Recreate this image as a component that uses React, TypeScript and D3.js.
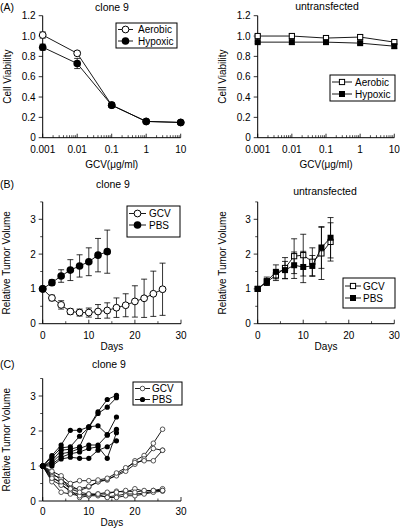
import React from "react";
import * as d3 from "d3";

// ---------- Panel A data (cell viability vs GCV dose) ----------
const doses = [0.001, 0.01, 0.1, 1, 10];
const aerobicClone9 = [1.01, 0.83, 0.32, 0.16, 0.15];
const aerobicClone9Err = [0.03, 0.02, 0.02, 0.01, 0.01];
const hypoxicClone9 = [0.89, 0.73, 0.32, 0.16, 0.15];
const hypoxicClone9Err = [0.03, 0.05, 0.02, 0.01, 0.01];
const aerobicUntr = [1.0, 1.0, 0.98, 0.99, 0.94];
const aerobicUntrErr = [0.015, 0.02, 0.015, 0.02, 0.01];
const hypoxicUntr = [0.94, 0.94, 0.94, 0.93, 0.9];
const hypoxicUntrErr = [0.01, 0.02, 0.015, 0.015, 0.02];
const viabilityTicks = [0, 0.2, 0.4, 0.6, 0.8, 1.0, 1.2];
const doseTicks = [0.001, 0.01, 0.1, 1, 10];
const doseTickLabels = ["0.001", "0.01", "0.1", "1", "10"];

// ---------- Panel B data (mean relative tumor volume) ----------
const daysGcvClone9 = [0, 2, 4, 6, 8, 10, 12, 14, 16, 18, 20, 22, 24, 26];
const gcvClone9 = [1.0, 0.74, 0.54, 0.35, 0.32, 0.32, 0.35, 0.38, 0.46, 0.53, 0.64, 0.73, 0.86, 0.99];
const gcvClone9Sd = [0, 0.08, 0.12, 0.08, 0.1, 0.13, 0.2, 0.22, 0.28, 0.33, 0.45, 0.55, 0.65, 0.75];
const daysPbsClone9 = [0, 2, 4, 6, 8, 10, 12, 14];
const pbsClone9 = [1.0, 1.18, 1.37, 1.54, 1.66, 1.78, 1.97, 2.07];
const pbsClone9Sd = [0, 0.08, 0.18, 0.3, 0.32, 0.4, 0.48, 0.62];

const daysUntr = [0, 2, 4, 6, 8, 10, 12, 14, 16];
const gcvUntr = [1.0, 1.2, 1.39, 1.6, 1.94, 1.97, 1.78, 2.02, 2.35];
const gcvUntrSd = [0, 0.1, 0.15, 0.3, 0.5, 0.6, 0.4, 0.75, 0.55];
const pbsUntr = [1.0, 1.22, 1.49, 1.54, 1.68, 1.63, 1.66, 2.19, 2.47];
const pbsUntrSd = [0, 0.12, 0.2, 0.25, 0.38, 0.45, 0.3, 0.6, 0.58];

const volumeTicks = [0, 1, 2, 3];
const volumeMinor = [0.5, 1.5, 2.5, 3.5];
const dayTicks = [0, 10, 20, 30];
const dayMinor = [5, 15, 25];

// ---------- Panel C data (individual mice, clone 9) ----------
const daysPbsMice = [0, 2, 4, 6, 8, 10, 12, 14, 16];
const pbsMouse1 = [1, 1.3, 1.6, 2.02, 2.02, 2.12, 2.55, 2.9, 3.02];
const pbsMouse2 = [1, 1.25, 1.52, 1.55, 1.85, 2.1, 2.5, 2.68, 2.95];
const pbsMouse3 = [1, 1.15, 1.45, 1.48, 1.55, 2.12, 2.15, 1.9, 2.4];
const pbsMouse4 = [1, 1.1, 1.35, 1.4, 1.5, 1.6, 1.6, 1.88, 2.05];
const pbsMouse5 = [1, 1.05, 1.25, 1.35, 1.4, 1.5, 1.55, 1.22, 1.95];
const pbsMouse6 = [1, 1.0, 1.2, 1.25, 1.22, 1.22, 1.45, 1.55, 1.72];

const daysGcvMice = [0, 2, 4, 6, 8, 10, 12, 14, 16, 18, 20, 22, 24, 26];
const gcvMouse1 = [1, 0.8, 0.6, 0.45, 0.3, 0.4, 0.55, 0.6, 0.75, 0.9, 1.15, 1.3, 1.65, 2.05];
const gcvMouse2 = [1, 0.75, 0.65, 0.35, 0.35, 0.42, 0.55, 0.62, 0.72, 0.85, 1.05, 1.2, 1.5, 1.45];
const gcvMouse3 = [1, 0.85, 0.72, 0.5, 0.58, 0.58, 0.6, 0.65, 0.8, 0.95, 1.1, 1.15, 1.15, 1.45];
const gcvMouse4 = [1, 0.7, 0.5, 0.25, 0.2, 0.15, 0.2, 0.2, 0.28, 0.25, 0.35, 0.28, 0.3, 0.35];
const gcvMouse5 = [1, 0.6, 0.45, 0.3, 0.1, 0.15, 0.15, 0.12, 0.15, 0.2, 0.2, 0.22, 0.28, 0.3];
const gcvMouse6 = [1, 0.55, 0.25, 0.2, 0.15, 0.2, 0.18, 0.1, 0.1, 0.15, 0.15, 0.2, 0.25, 0.28];
const gcvMouse7 = [1, 0.65, 0.55, 0.35, 0.25, 0.2, 0.2, 0.25, 0.25, 0.3, 0.25, 0.3, 0.3, 0.3];

const pbsMice = [pbsMouse1, pbsMouse2, pbsMouse3, pbsMouse4, pbsMouse5, pbsMouse6];
const gcvMice = [gcvMouse1, gcvMouse2, gcvMouse3, gcvMouse4, gcvMouse5, gcvMouse6, gcvMouse7];

const FONT = "'Liberation Sans', Arial, Helvetica, sans-serif";
const FS = 10;

type Marker = "openCircle" | "filledCircle" | "openSquare" | "filledSquare" | "smallOpen" | "smallFilled";

function MarkerShape({ kind, cx, cy }: { kind: Marker; cx: number; cy: number }) {
  switch (kind) {
    case "openCircle":
      return <circle cx={cx} cy={cy} r={3.4} fill="#fff" stroke="#000" strokeWidth={1} />;
    case "filledCircle":
      return <circle cx={cx} cy={cy} r={3.8} fill="#000" />;
    case "openSquare":
      return <rect x={cx - 2.6} y={cy - 2.6} width={5.2} height={5.2} fill="#fff" stroke="#000" strokeWidth={1} />;
    case "filledSquare":
      return <rect x={cx - 3} y={cy - 3} width={6} height={6} fill="#000" />;
    case "smallOpen":
      return <circle cx={cx} cy={cy} r={2.3} fill="#fff" stroke="#444" strokeWidth={0.9} />;
    case "smallFilled":
      return <circle cx={cx} cy={cy} r={2.6} fill="#000" />;
  }
  return null;
}

function Series({ xs, ys, err, x, y, marker }: any) {
  const line = d3
    .line<number>()
    .x((_, i) => x(xs[i]))
    .y((v) => y(v));
  return (
    <g>
      <path d={line(ys) || ""} fill="none" stroke="#000" strokeWidth={0.9} />
      {err &&
        ys.map((v: number, i: number) =>
          err[i] > 0 ? (
            <g key={"e" + i} stroke="#000" strokeWidth={0.8}>
              <line x1={x(xs[i])} x2={x(xs[i])} y1={y(v - err[i])} y2={y(v + err[i])} />
              <line x1={x(xs[i]) - 3} x2={x(xs[i]) + 3} y1={y(v + err[i])} y2={y(v + err[i])} />
              <line x1={x(xs[i]) - 3} x2={x(xs[i]) + 3} y1={y(v - err[i])} y2={y(v - err[i])} />
            </g>
          ) : null
        )}
      {ys.map((v: number, i: number) => (
        <MarkerShape key={"m" + i} kind={marker} cx={x(xs[i])} cy={y(v)} />
      ))}
    </g>
  );
}

function Axes({ x, y, xMajor, xLabels, xMinor, yMajor, yLabels, yMinor, xTitle, yTitle, yTitleX, xLabelDy, xTitleY }: any) {
  const [x0, x1] = x.range();
  const [yb, yt] = y.range();
  return (
    <g fontFamily={FONT} fontSize={FS} fill="#000">
      <line x1={x0} x2={x1} y1={yb} y2={yb} stroke="#000" strokeWidth={1} />
      <line x1={x0} x2={x0} y1={yb} y2={yt} stroke="#000" strokeWidth={1} />
      {xMajor.map((t: number, i: number) => (
        <g key={"xm" + i}>
          <line x1={x(t)} x2={x(t)} y1={yb} y2={yb - 4} stroke="#000" strokeWidth={0.8} />
          <text x={x(t)} y={yb + xLabelDy} textAnchor="middle">
            {xLabels[i]}
          </text>
        </g>
      ))}
      {xMinor.map((t: number, i: number) => (
        <line key={"xn" + i} x1={x(t)} x2={x(t)} y1={yb} y2={yb - 2.5} stroke="#000" strokeWidth={0.7} />
      ))}
      {yMajor.map((t: number, i: number) => (
        <g key={"ym" + i}>
          <line x1={x0 - 4} x2={x0} y1={y(t)} y2={y(t)} stroke="#000" strokeWidth={0.8} />
          <text x={x0 - 7} y={y(t)} dy="0.35em" textAnchor="end">
            {yLabels[i]}
          </text>
        </g>
      ))}
      {yMinor.map((t: number, i: number) => (
        <line key={"yn" + i} x1={x0 - 2.5} x2={x0} y1={y(t)} y2={y(t)} stroke="#000" strokeWidth={0.7} />
      ))}
      <text x={(x0 + x1) / 2} y={xTitleY} textAnchor="middle">
        {xTitle}
      </text>
      <text
        transform={`translate(${yTitleX},${(yb + yt) / 2}) rotate(-90)`}
        textAnchor="middle"
        dy="0.35em"
      >
        {yTitle}
      </text>
    </g>
  );
}

function Legend({ x, y, w, h, rows, lineX1, lineX2, textX, rowYs }: any) {
  return (
    <g fontFamily={FONT} fontSize={FS}>
      <rect x={x} y={y} width={w} height={h} fill="#fff" stroke="#000" strokeWidth={1} />
      {rows.map((r: any, i: number) => (
        <g key={i}>
          <line x1={lineX1} x2={lineX2} y1={rowYs[i]} y2={rowYs[i]} stroke="#000" strokeWidth={0.9} />
          <MarkerShape kind={r.marker} cx={(lineX1 + lineX2) / 2} cy={rowYs[i]} />
          <text x={textX} y={rowYs[i]} dy="0.35em" fill="#000">
            {r.label}
          </text>
        </g>
      ))}
    </g>
  );
}

export default function App() {
  // Panel A scales
  const yA = d3.scaleLinear().domain([0, 1.2]).range([137.7, 15.7]);
  const xAL = d3.scaleLog().domain([0.001, 10]).range([42.7, 180.7]);
  const xAR = d3.scaleLog().domain([0.001, 10]).range([257.7, 394.3]);
  const logMinor = (s: any) => s.ticks().filter((t: number) => !doseTicks.some((m) => Math.abs(m - t) / m < 1e-6));

  // Panel B scales
  const yB = d3.scaleLinear().domain([0, 3.5]).range([323.7, 201.9]);
  const xBL = d3.scaleLinear().domain([0, 30]).range([42.7, 181]);
  const xBR = d3.scaleLinear().domain([0, 30]).range([257.7, 394.3]);

  // Panel C scales
  const yC = d3.scaleLinear().domain([0, 3.5]).range([501, 378.5]);
  const xC = d3.scaleLinear().domain([0, 30]).range([42.7, 181]);

  const vLabels = viabilityTicks.map((t) => (t === 0 ? "0" : t.toFixed(1)));
  const dLabels = dayTicks.map(String);
  const volLabels = volumeTicks.map(String);

  return (
    <svg width={400} height={528} style={{ position: "absolute", left: 0, top: 0, background: "#fff" }}>
      <rect width={400} height={528} fill="#fff" />
      <g fontFamily={FONT} fontSize={10.5} fill="#000">
        <text x={0} y={11}>(A)</text>
        <text x={112} y={11} textAnchor="middle">clone 9</text>
        <text x={327} y={10} textAnchor="middle">untransfected</text>
        <text x={0} y={188}>(B)</text>
        <text x={113} y={188} textAnchor="middle">clone 9</text>
        <text x={325} y={195} textAnchor="middle">untransfected</text>
        <text x={0} y={368}>(C)</text>
        <text x={109} y={368} textAnchor="middle">clone 9</text>
      </g>

      {/* Panel A left */}
      <Axes x={xAL} y={yA} xMajor={doseTicks} xLabels={doseTickLabels} xMinor={logMinor(xAL)}
        yMajor={viabilityTicks} yLabels={vLabels} yMinor={[]} xTitle="GCV(μg/ml)" yTitle="Cell Viability"
        yTitleX={7} xLabelDy={15} xTitleY={168} />
      <Series xs={doses} ys={aerobicClone9} err={aerobicClone9Err} x={xAL} y={yA} marker="openCircle" />
      <Series xs={doses} ys={hypoxicClone9} err={hypoxicClone9Err} x={xAL} y={yA} marker="filledCircle" />
      <Legend x={116} y={23} w={61} h={25} lineX1={118} lineX2={133} textX={138} rowYs={[29.5, 41]}
        rows={[{ marker: "openCircle", label: "Aerobic" }, { marker: "filledCircle", label: "Hypoxic" }]} />

      {/* Panel A right */}
      <Axes x={xAR} y={yA} xMajor={doseTicks} xLabels={doseTickLabels} xMinor={logMinor(xAR)}
        yMajor={viabilityTicks} yLabels={vLabels} yMinor={[]} xTitle="GCV(μg/ml)" yTitle="Cell Viability"
        yTitleX={222} xLabelDy={15} xTitleY={168} />
      <Series xs={doses} ys={aerobicUntr} err={aerobicUntrErr} x={xAR} y={yA} marker="openSquare" />
      <Series xs={doses} ys={hypoxicUntr} err={hypoxicUntrErr} x={xAR} y={yA} marker="filledSquare" />
      <Legend x={330} y={75} w={65} h={26} lineX1={332} lineX2={352} textX={355} rowYs={[82, 94]}
        rows={[{ marker: "openSquare", label: "Aerobic" }, { marker: "filledSquare", label: "Hypoxic" }]} />

      {/* Panel B left */}
      <Axes x={xBL} y={yB} xMajor={dayTicks} xLabels={dLabels} xMinor={dayMinor}
        yMajor={volumeTicks} yLabels={volLabels} yMinor={volumeMinor} xTitle="Days" yTitle="Relative Tumor Volume"
        yTitleX={6} xLabelDy={15} xTitleY={350} />
      <Series xs={daysGcvClone9} ys={gcvClone9} err={gcvClone9Sd} x={xBL} y={yB} marker="openCircle" />
      <Series xs={daysPbsClone9} ys={pbsClone9} err={pbsClone9Sd} x={xBL} y={yB} marker="filledCircle" />
      <Legend x={127} y={206} w={53} h={31} lineX1={129} lineX2={146} textX={149} rowYs={[213.5, 225]}
        rows={[{ marker: "openCircle", label: "GCV" }, { marker: "filledCircle", label: "PBS" }]} />

      {/* Panel B right */}
      <Axes x={xBR} y={yB} xMajor={dayTicks} xLabels={dLabels} xMinor={dayMinor}
        yMajor={volumeTicks} yLabels={volLabels} yMinor={volumeMinor} xTitle="Days" yTitle="Relative Tumor Volume"
        yTitleX={222} xLabelDy={15} xTitleY={350} />
      <Series xs={daysUntr} ys={gcvUntr} err={gcvUntrSd} x={xBR} y={yB} marker="openSquare" />
      <Series xs={daysUntr} ys={pbsUntr} err={pbsUntrSd} x={xBR} y={yB} marker="filledSquare" />
      <Legend x={343} y={278} w={52} h={30} lineX1={345} lineX2={361} textX={363} rowYs={[286, 298]}
        rows={[{ marker: "openSquare", label: "GCV" }, { marker: "filledSquare", label: "PBS" }]} />

      {/* Panel C */}
      <Axes x={xC} y={yC} xMajor={dayTicks} xLabels={dLabels} xMinor={dayMinor}
        yMajor={volumeTicks} yLabels={volLabels} yMinor={volumeMinor} xTitle="Days" yTitle="Relative Tumor Volume"
        yTitleX={6} xLabelDy={14} xTitleY={526} />
      {gcvMice.map((m, i) => (
        <Series key={"g" + i} xs={daysGcvMice} ys={m} err={null} x={xC} y={yC} marker="smallOpen" />
      ))}
      {pbsMice.map((m, i) => (
        <Series key={"p" + i} xs={daysPbsMice} ys={m} err={null} x={xC} y={yC} marker="smallFilled" />
      ))}
      <Legend x={133} y={382} w={49} h={23} lineX1={135} lineX2={150} textX={152} rowYs={[388.5, 399.5]}
        rows={[{ marker: "smallOpen", label: "GCV" }, { marker: "smallFilled", label: "PBS" }]} />
    </svg>
  );
}
